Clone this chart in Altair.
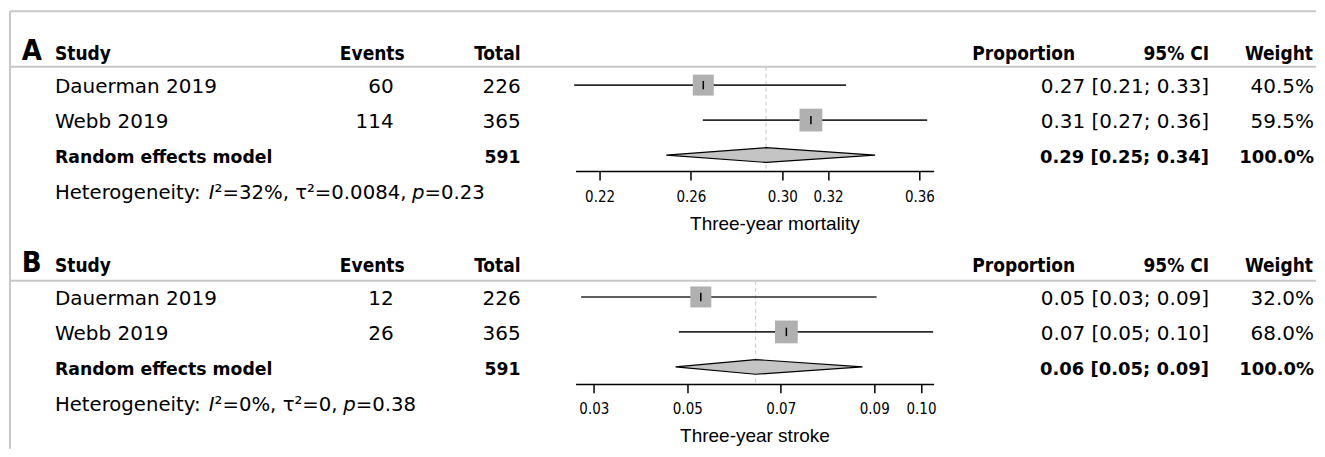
import altair as alt
import pandas as pd

# ---------------- data ----------------
STUDIES = ["Dauerman 2019", "Webb 2019"]
HEADERS = ["Study", "Events", "Total", "Proportion", "95% CI", "Weight"]

A_EVENTS = [60, 114]
A_TOTALS = [226, 365]
A_EST = [0.2654, 0.3125]
A_LOWER = [0.2089, 0.2652]
A_UPPER = [0.3279, 0.3634]
A_WEIGHTS = [40.5, 59.5]
A_CI_TEXT = ["0.27 [0.21; 0.33]", "0.31 [0.27; 0.36]"]
A_POOLED = [0.2929, 0.2492, 0.3406]          # estimate, lower, upper
A_POOLED_TEXT = "0.29 [0.25; 0.34]"
A_POOLED_TOTAL = 591
# heterogeneity line as (text, italic) pieces
A_HET = [("Heterogeneity: ", False), ("I", True), ("²=32%, τ²=0.0084, ", False), ("p", True), ("=0.23", False)]
A_TICKS = [0.22, 0.26, 0.30, 0.32, 0.36]
A_LIMITS = [0.2095, 0.3662]
A_XTITLE = "Three-year mortality"

B_EVENTS = [12, 26]
B_TOTALS = [226, 365]
B_EST = [0.0529, 0.0712]
B_LOWER = [0.0273, 0.0482]
B_UPPER = [0.0905, 0.1026]
B_WEIGHTS = [32.0, 68.0]
B_CI_TEXT = ["0.05 [0.03; 0.09]", "0.07 [0.05; 0.10]"]
B_POOLED = [0.0646, 0.0475, 0.0875]
B_POOLED_TEXT = "0.06 [0.05; 0.09]"
B_POOLED_TOTAL = 591
B_HET = [("Heterogeneity: ", False), ("I", True), ("²=0%, τ²=0, ", False), ("p", True), ("=0.38", False)]
B_TICKS = [0.03, 0.05, 0.07, 0.09, 0.10]
B_LIMITS = [0.0261, 0.1027]
B_XTITLE = "Three-year stroke"

# ---------------- layout / style ----------------
W = 1309
ROW_H = 35
X_RANGE = [568, 926.3]
HEAD_X = {"Study": 47, "Events": 397, "Total": 513, "Proportion": 1068, "95% CI": 1202, "Weight": 1306}
HEAD_ALIGN = {"Study": "left", "Events": "right", "Total": "right", "Proportion": "right",
              "95% CI": "right", "Weight": "right"}
VAL_X = {"study": 47, "events": 386, "total": 513, "ci": 1202, "weight": 1307}
REG = "DejaVu Sans"
COND = "DejaVu Sans Condensed"
REG_SIZE = 20
GRID_GRAY = "#c8c8c8"
SPACING = 57

# approximate DejaVu Sans advance widths (em) used to chain the heterogeneity pieces
ADV = {"H": .752, "e": .615, "t": .392, "r": .411, "o": .612, "g": .635, "n": .634, "i": .278,
       "y": .592, ":": .337, " ": .318, "I": .295, "p": .635, "²": .401, "=": .838, "%": .950,
       ",": .318, ".": .318, "τ": .565}
DIGIT = .636


def text_width(s, size):
    return sum(ADV.get(c, DIGIT) for c in s) * size


def panel(letter, events, totals, est, lower, upper, weights, ci_text, pooled,
          pooled_text, pooled_total, het, ticks, limits, xtitle,
          height, row0, head_line, frame_top, border_end, title_x, title_y):
    n = len(STUDIES)
    ys = alt.Scale(domain=[-row0 / ROW_H, (height - row0) / ROW_H], reverse=True, nice=False, zero=False)
    xs = alt.Scale(domain=limits, range=X_RANGE, nice=False, zero=False)
    xaxis = alt.Axis(values=ticks, format=".2f", grid=False, domainColor="black", domainWidth=1.5,
                     tickColor="black", tickWidth=1.5, tickSize=9, labelFont=COND, labelFontSize=15,
                     labelColor="black", labelPadding=21, labelBaseline="alphabetic", labelFlush=False,
                     labelOverlap=False, titleFont="Liberation Sans", titleFontSize=19,
                     titleFontWeight="normal", titleColor="black", titleX=title_x, titleY=title_y,
                     titleBaseline="alphabetic")

    def X(f):
        return alt.X(f"{f}:Q", scale=xs, axis=xaxis, title=xtitle)

    def Y(f="r"):
        return alt.Y(f"{f}:Q", scale=ys, axis=None)

    studies = pd.DataFrame({
        "r": [1 + i for i in range(n)],
        "study": STUDIES,
        "events": [str(e) for e in events],
        "total": [str(t) for t in totals],
        "est": est, "lower": lower, "upper": upper,
        "weight": weights,
        "wtxt": [f"{w:.1f}%" for w in weights],
        "ci": ci_text,
    })
    pooled_df = pd.DataFrame({"r": [n + 1], "study": ["Random effects model"], "total": [str(pooled_total)],
                              "ci": [pooled_text], "wtxt": ["100.0%"]})
    head_df = pd.DataFrame({"r": [0], "letter": [letter]})
    diamond = pd.DataFrame({"x": [pooled[1], pooled[0], pooled[2]], "f": [0, 1, 0]})
    one = pd.DataFrame({"k": [0]})

    layers = []
    # frame lines
    if frame_top is not None:
        layers.append(alt.Chart(one).mark_rule(color=GRID_GRAY, strokeWidth=2).encode(
            x=alt.value(2), x2=alt.value(W), y=alt.value(frame_top)))
    layers.append(alt.Chart(one).mark_rule(color=GRID_GRAY, strokeWidth=2).encode(
        x=alt.value(2), y=alt.value(frame_top if frame_top is not None else 0), y2=alt.value(border_end)))
    layers.append(alt.Chart(one).mark_rule(color=GRID_GRAY, strokeWidth=2).encode(
        x=alt.value(2), x2=alt.value(W), y=alt.value(head_line)))
    # pooled dashed reference
    layers.append(alt.Chart(pd.DataFrame({"x": [pooled[0]]})).mark_rule(
        color="#d0d0d0", strokeDash=[4, 3], strokeWidth=1.2).encode(
        x=X("x"), y=alt.value(head_line), y2=alt.value(height)))
    # CI lines
    layers.append(alt.Chart(studies).mark_rule(color="#2b2b2b", strokeWidth=1.6).encode(
        x=X("lower"), x2="upper", y=Y()))
    # squares
    layers.append(alt.Chart(studies).mark_square(color="#b0b0b0", opacity=1).encode(
        x=X("est"), y=Y(),
        size=alt.Size("weight:Q", scale=alt.Scale(domain=[min(weights), max(weights)], range=[440, 520]),
                      legend=None)))
    # estimate ticks
    layers.append(alt.Chart(studies).transform_calculate(
        ta="datum.r - 0.12", tb="datum.r + 0.12").mark_rule(color="black", strokeWidth=1.5).encode(
        x=X("est"), y=Y("ta"), y2="tb"))
    # diamond
    layers.append(alt.Chart(diamond).transform_calculate(
        r=f"{n + 1}").transform_calculate(
        yt="datum.r - 0.21 * datum.f", yb="datum.r + 0.21 * datum.f").mark_area(
        fill="#c4c4c4", stroke="black", strokeWidth=1.2, opacity=1).encode(
        x=X("x"), y=Y("yt"), y2="yb"))

    # headers
    layers.append(alt.Chart(head_df).mark_text(font=COND, fontWeight="bold", fontSize=29, align="left",
                                               baseline="alphabetic", dy=10, color="black").encode(
        x=alt.value(13.7), y=Y(), text="letter:N"))
    for h in HEADERS:
        layers.append(alt.Chart(head_df).mark_text(font=COND, fontWeight="bold", fontSize=19,
                                                   align=HEAD_ALIGN[h], baseline="alphabetic", dy=10,
                                                   color="black", text=h).encode(
            x=alt.value(HEAD_X[h]), y=Y()))

    def txt(df, field, key, align, bold=False, size=REG_SIZE):
        return alt.Chart(df).mark_text(font=REG, fontSize=size, fontWeight="bold" if bold else "normal",
                                       align=align, baseline="alphabetic", dy=8, color="black").encode(
            x=alt.value(VAL_X[key]), y=Y(), text=f"{field}:N")

    layers += [
        txt(studies, "study", "study", "left"),
        txt(studies, "events", "events", "right"),
        txt(studies, "total", "total", "right"),
        txt(studies, "ci", "ci", "right"),
        txt(studies, "wtxt", "weight", "right"),
        txt(pooled_df, "study", "study", "left", True, 17.3),
        txt(pooled_df, "total", "total", "right", True, 17.3),
        txt(pooled_df, "ci", "ci", "right", True, 18),
        txt(pooled_df, "wtxt", "weight", "right", True, 18),
    ]
    # heterogeneity line, pieces chained left to right
    x0 = VAL_X["study"]
    het_df = pd.DataFrame({"r": [n + 2]})
    for piece, italic in het:
        layers.append(alt.Chart(het_df).mark_text(
            font=REG, fontSize=19.7, fontStyle="italic" if italic else "normal", align="left",
            baseline="alphabetic", dy=9, color="black", text=piece).encode(
            x=alt.value(round(x0, 1)), y=Y()))
        x0 += text_width(piece, 19.7)
    return alt.layer(*layers).properties(width=W, height=height)


panel_a = panel("A", A_EVENTS, A_TOTALS, A_EST, A_LOWER, A_UPPER, A_WEIGHTS, A_CI_TEXT, A_POOLED,
                A_POOLED_TEXT, A_POOLED_TOTAL, A_HET, A_TICKS, A_LIMITS, A_XTITLE,
                height=163, row0=42, head_line=58.7, frame_top=3, border_end=163 + SPACING,
                title_x=767, title_y=59)
panel_b = panel("B", B_EVENTS, B_TOTALS, B_EST, B_LOWER, B_UPPER, B_WEIGHTS, B_CI_TEXT, B_POOLED,
                B_POOLED_TEXT, B_POOLED_TOTAL, B_HET, B_TICKS, B_LIMITS, B_XTITLE,
                height=156, row0=34, head_line=52.7, frame_top=None, border_end=221,
                title_x=747, title_y=58)

chart = alt.vconcat(panel_a, panel_b, spacing=SPACING, bounds="flush").resolve_scale(
    x="independent", y="independent", size="independent").properties(
    padding=0).configure_view(stroke=None)

chart.save("out.html", embed_options={"renderer": "svg", "actions": False})
